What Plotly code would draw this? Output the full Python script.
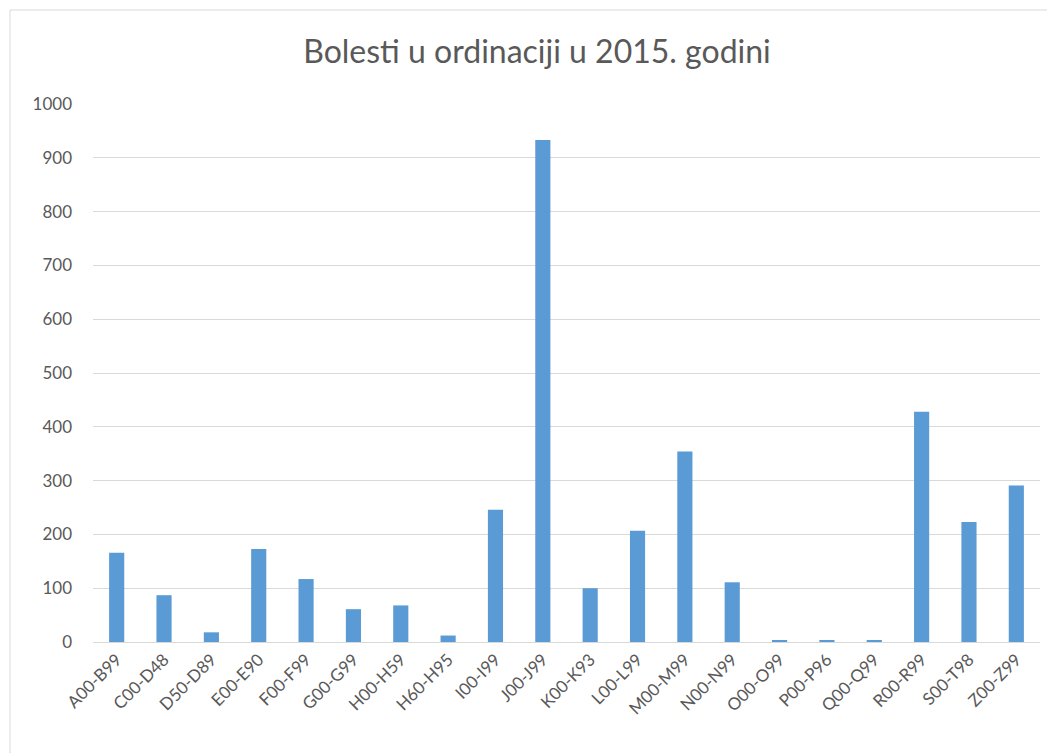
import plotly.graph_objects as go

categories = ["A00-B99", "C00-D48", "D50-D89", "E00-E90", "F00-F99", "G00-G99",
              "H00-H59", "H60-H95", "I00-I99", "J00-J99", "K00-K93", "L00-L99",
              "M00-M99", "N00-N99", "O00-O99", "P00-P96", "Q00-Q99", "R00-R99",
              "S00-T98", "Z00-Z99"]
values = [166, 87, 18, 173, 117, 61, 68, 12, 246, 933, 100, 207,
          354, 111, 2, 2, 2, 428, 223, 291]
y_ticks = list(range(0, 1001, 100))

font_family = "Lato, 'Open Sans', sans-serif"
grey = "#595959"

OFF = 8  # default page body margin
L, R, T, B = 93 - OFF, 15, 104 - OFF, 111
W, H = 1055 - OFF, 753 - OFF
pw, ph = W - L - R, H - T - B

fig = go.Figure(go.Bar(x=categories, y=values, marker_color="#5B9BD5",
                       marker_line_width=0))

fig.update_layout(
    width=W, height=H,
    margin=dict(l=L, r=R, t=T, b=B, autoexpand=False),
    paper_bgcolor="white", plot_bgcolor="white",
    bargap=0.68,
    showlegend=False,
    title=dict(text="Bolesti u ordinaciji u 2015. godini",
               x=(537 - OFF) / W, xanchor="center", xref="container",
               y=1 - (52 - OFF) / H, yanchor="middle", yref="container",
               font=dict(family=font_family, size=32, color=grey)),
    font=dict(family=font_family, color=grey),
    xaxis=dict(tickangle=-45, tickfont=dict(size=17, color=grey),
               showline=True, linecolor="#d9d9d9", linewidth=1,
               ticks="", showgrid=False),
    yaxis=dict(range=[0, 1000], tickvals=y_ticks, tickfont=dict(size=17, color=grey),
               showgrid=True, gridcolor="#d9d9d9", gridwidth=1,
               zeroline=False, showline=False, ticks="", ticklabelstandoff=20),
    shapes=[dict(type="rect", xref="paper", yref="paper",
                 x0=(10 - OFF - L) / pw, x1=(W + 20 - L) / pw,
                 y0=-(B + 20) / ph, y1=(T + ph - (10 - OFF)) / ph - (ph - ph) ,
                 line=dict(color="#d9d9d9", width=1), fillcolor="rgba(0,0,0,0)",
                 layer="below")],
)
# fix top of border: pixel y=10-OFF from top of figure
fig.layout.shapes[0].y1 = (T - (10 - OFF)) / ph + 1

fig.write_html("out.html")
